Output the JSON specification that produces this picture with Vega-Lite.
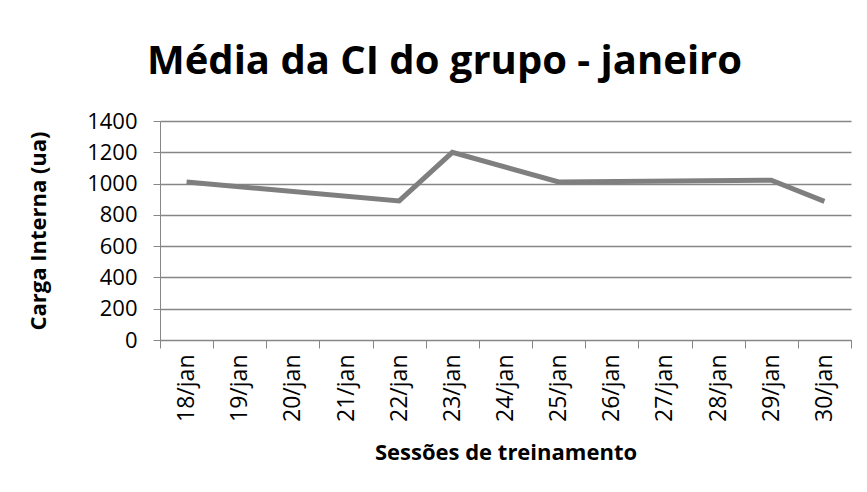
{
  "$schema": "https://vega.github.io/schema/vega-lite/v6.json",
  "width": 691,
  "height": 219,
  "autosize": "none",
  "padding": {"left": 160, "top": 121, "right": 16, "bottom": 152},
  "background": "white",
  "title": {
    "text": "Média da CI do grupo - janeiro",
    "anchor": "middle",
    "frame": "group",
    "dx": -61,
    "offset": 28,
    "font": "Open Sans",
    "fontSize": 40,
    "fontWeight": "bold",
    "color": "black"
  },
  "data": {
    "values": [
      {"data": "18/jan", "valor": 1010},
      {"data": "22/jan", "valor": 889},
      {"data": "23/jan", "valor": 1200},
      {"data": "25/jan", "valor": 1010},
      {"data": "29/jan", "valor": 1022},
      {"data": "30/jan", "valor": 886}
    ]
  },
  "mark": {"type": "line", "color": "#7f7f7f", "strokeWidth": 5, "strokeJoin": "miter"},
  "encoding": {
    "x": {
      "field": "data",
      "type": "ordinal",
      "sort": null,
      "scale": {
        "type": "band",
        "domain": ["18/jan","19/jan","20/jan","21/jan","22/jan","23/jan","24/jan","25/jan","26/jan","27/jan","28/jan","29/jan","30/jan"],
        "paddingInner": 0,
        "paddingOuter": 0
      },
      "axis": {
        "title": "Sessões de treinamento",
        "titleFont": "Open Sans",
        "titleFontSize": 22,
        "titleFontWeight": "bold",
        "titleColor": "black",
        "titlePadding": 21,
        "labelAngle": -90,
        "labelFont": "Open Sans",
        "labelFontSize": 23,
        "labelColor": "black",
        "labelPadding": 6,
        "tickBand": "extent",
        "tickSize": 8,
        "tickColor": "#868686",
        "domainColor": "#868686",
        "grid": false
      }
    },
    "y": {
      "field": "valor",
      "type": "quantitative",
      "scale": {"domain": [0, 1400]},
      "axis": {
        "title": "Carga Interna (ua)",
        "titleFont": "Open Sans",
        "titleFontSize": 22,
        "titleFontWeight": "bold",
        "titleColor": "black",
        "titlePadding": 36,
        "values": [0, 200, 400, 600, 800, 1000, 1200, 1400],
        "format": "d",
        "labelFont": "Open Sans",
        "labelFontSize": 22,
        "labelColor": "black",
        "labelPadding": 16,
        "tickSize": 7,
        "tickColor": "#868686",
        "domainColor": "#868686",
        "gridColor": "#868686",
        "gridWidth": 1.5
      }
    }
  },
  "config": {"view": {"stroke": null}}
}
